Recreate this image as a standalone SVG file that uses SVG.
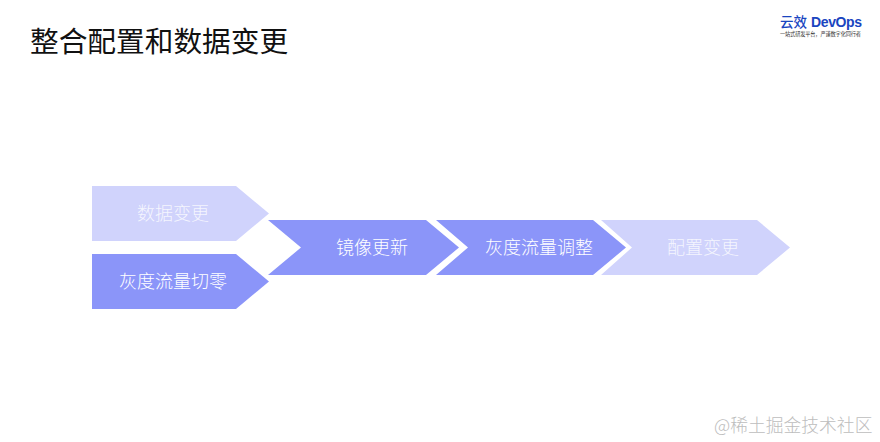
<svg xmlns="http://www.w3.org/2000/svg" width="880" height="442" viewBox="0 0 880 442">
<style>
text{font-family:"Noto Sans CJK SC","Liberation Sans",sans-serif}
.lbl{font-size:18px;fill:#fff;text-anchor:middle;font-weight:300}
.soft{fill-opacity:.8}
.dark{fill:#8b95f9}
.light{fill:#d0d3fc}
</style>
<rect width="880" height="442" fill="#fff"/>
<text x="30" y="52" font-size="28.7" fill="#111">整合配置和数据变更</text>
<g id="logo">
<text x="780" y="27" font-size="13.5" font-weight="500" fill="#1a45c0" style="font-family:'Noto Sans CJK SC',sans-serif">云效</text>
<text x="811" y="27" font-size="14" font-weight="700" fill="#1a45c0" style="font-family:'Liberation Sans',sans-serif" textLength="51">DevOps</text>
<text x="780" y="36" font-size="5.2" fill="#333" textLength="81">一站式研发平台，严谨数字化同行者</text>
</g>
<g id="connectors"></g>
<g id="n1"><polygon class="light" points="92,186 236,186 269,213.5 236,241 92,241"/><text class="lbl soft" x="173" y="220">数据变更</text></g>
<g id="n2"><polygon class="dark" points="92,254 236,254 269,281.5 236,309 92,309"/><text class="lbl" x="173" y="288">灰度流量切零</text></g>
<g id="n3"><polygon class="dark" points="268,220 426,220 459,247.5 426,275 268,275 301,247.5"/><text class="lbl" x="372" y="254">镜像更新</text></g>
<g id="n5"><polygon class="light" points="601,220 757,220 790,247.5 757,275 601,275 632,247.5"/><text class="lbl soft" x="703" y="254">配置变更</text></g>
<g id="n4"><polygon class="dark" points="436,220 593,220 626,247.5 593,275 436,275 468,247.5"/><text class="lbl" x="539" y="254">灰度流量调整</text></g>
<text id="watermark" x="714" y="432" font-size="17.8" fill="#bdbdbd" style="font-family:'Noto Sans CJK SC',sans-serif;font-weight:300">@稀土掘金技术社区</text>
</svg>
